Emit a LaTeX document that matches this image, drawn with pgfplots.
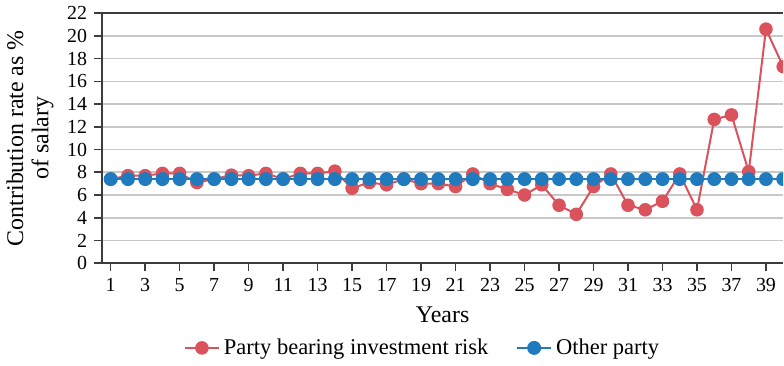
\documentclass[border=0pt]{standalone}
\usepackage{fontspec}
\setmainfont{Liberation Serif}
\usepackage{pgfplots}
\pgfplotsset{compat=1.18}
\definecolor{redc}{RGB}{218,82,92}
\definecolor{bluec}{RGB}{32,122,190}
\definecolor{gridc}{RGB}{200,200,200}
\definecolor{axc}{RGB}{60,60,60}
\begin{document}
\begin{tikzpicture}
\begin{axis}[
  scale only axis,
  width=342pt, height=125.5pt,
  xmin=0.5, xmax=40, ymin=0, ymax=22,
  clip marker paths=true,
  axis x line*=box, axis y line*=left,
  xtick pos=lower,
  xtick={1,3,...,39},
  ytick={0,2,...,22},
  tick align=outside,
  major tick length=4pt,
  ymajorgrids, grid style={gridc, line width=0.8pt},
  axis line style={axc, line width=0.8pt},
  tick style={axc, line width=0.8pt},
  /pgf/number format/assume math mode=true,
  ticklabel style={font=\fontsize{10}{12}\selectfont},
  xlabel={Years},
  xlabel style={font=\fontsize{12}{14}\selectfont, at={(axis description cs:0.5,-0.207)}, anchor=center},
  ylabel={\shortstack{Contribution rate as \%\\[1pt]of salary}},
  ylabel style={font=\fontsize{12}{14}\selectfont, align=center},
  legend style={draw=none, legend columns=2, at={(0.472,-0.339)}, anchor=center,
    font=\fontsize{11.3}{13}\selectfont, /tikz/every even column/.append style={column sep=12pt}},
  legend cell align=left,
]
\addplot[redc, line width=1pt, mark=*, mark size=2.9pt, mark options={fill=redc, draw=redc}]
coordinates {
(1,7.4)(2,7.7)(3,7.7)(4,7.9)(5,7.9)(6,7.1)(7,7.4)(8,7.75)(9,7.7)(10,7.9)
(11,7.4)(12,7.9)(13,7.9)(14,8.1)(15,6.6)(16,7.1)(17,6.9)(18,7.4)(19,7.0)(20,7.0)
(21,6.75)(22,7.85)(23,7.0)(24,6.5)(25,6.0)(26,6.9)(27,5.1)(28,4.3)(29,6.75)(30,7.85)
(31,5.1)(32,4.7)(33,5.45)(34,7.85)(35,4.7)(36,12.65)(37,13.05)(38,8.05)(39,20.6)(40,17.3)
};
\addlegendentry{Party bearing investment risk}
\addplot[bluec, line width=1pt, mark=*, mark size=3pt, mark options={fill=bluec, draw=bluec}]
coordinates {
(1,7.4)(2,7.4)(3,7.4)(4,7.4)(5,7.4)(6,7.4)(7,7.4)(8,7.4)(9,7.4)(10,7.4)
(11,7.4)(12,7.4)(13,7.4)(14,7.4)(15,7.4)(16,7.4)(17,7.4)(18,7.4)(19,7.4)(20,7.4)
(21,7.4)(22,7.4)(23,7.4)(24,7.4)(25,7.4)(26,7.4)(27,7.4)(28,7.4)(29,7.4)(30,7.4)
(31,7.4)(32,7.4)(33,7.4)(34,7.4)(35,7.4)(36,7.4)(37,7.4)(38,7.4)(39,7.4)(40,7.4)
};
\addlegendentry{Other party}
\end{axis}
\end{tikzpicture}
\end{document}
